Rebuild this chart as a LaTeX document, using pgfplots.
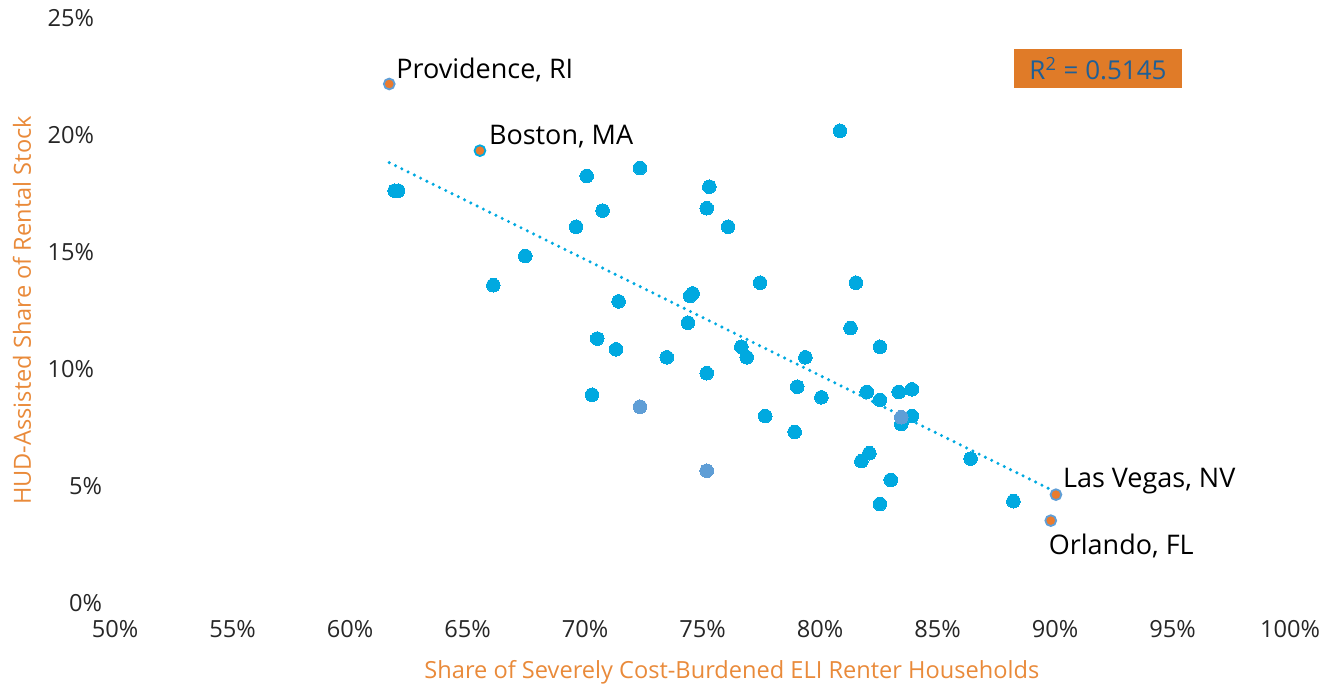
\documentclass[border=0pt]{standalone}
\usepackage{pgfplots}
\pgfplotsset{compat=1.18}
\usepackage{fontspec}
\setmainfont{Open Sans}
\definecolor{dotcyan}{HTML}{00A9E0}
\definecolor{dotsteel}{HTML}{5F9ED6}
\definecolor{dotorange}{HTML}{EA7B2E}
\definecolor{boxorange}{HTML}{E07B28}
\definecolor{titleorange}{HTML}{E98A3A}
\definecolor{rtext}{HTML}{1F5F96}
\definecolor{ticktext}{HTML}{262626}
\begin{document}
\begin{tikzpicture}
\path[use as bounding box] (-57.5pt,-41pt) rectangle (605pt,301.5pt);
\begin{axis}[
  scale only axis, width=587.5pt, height=292.5pt,
  xmin=50, xmax=100, ymin=0, ymax=25,
  clip=false,
  axis line style={draw=none},
  major tick length=0pt,
  xtick={50,55,...,100},
  xticklabels={50\%,55\%,60\%,65\%,70\%,75\%,80\%,85\%,90\%,95\%,100\%},
  ytick={0,5,...,25},
  yticklabels={0\%\hspace*{-4pt},5\%\hspace*{-4pt},10\%,15\%,20\%,25\%},
  tick label style={font=\fontsize{11.8}{13}\selectfont, text=ticktext},
  xticklabel style={yshift=-5pt},
  yticklabel style={xshift=-7pt},
  xlabel={Share of Severely Cost-Burdened ELI Renter Households},
  ylabel={HUD-Assisted Share of Rental Stock},
  label style={font=\fontsize{11.8}{13}\selectfont, text=titleorange},
  xlabel style={at={(axis description cs:0.525,0)}, anchor=center, yshift=-34.5pt},
  ylabel style={at={(axis description cs:0,0.5)}, anchor=center, rotate=0, yshift=46.5pt},
]
% regular points
\addplot[only marks, mark=*, mark size=3.4pt, color=dotcyan, mark options={fill=dotcyan, draw=dotcyan, line width=0pt}] coordinates {
(61.90,17.62) (62.05,17.62) (70.07,18.25) (72.34,18.59) (70.75,16.77)
(69.62,16.08) (67.46,14.83) (66.10,13.58) (75.29,17.79) (75.18,16.87)
(76.09,16.08) (77.45,13.69) (81.53,13.69) (74.58,13.23) (74.47,13.12)
(71.43,12.89) (74.38,11.98) (81.30,11.75) (82.55,10.95) (70.52,11.30)
(71.32,10.84) (73.48,10.50) (76.65,10.95) (76.88,10.50) (79.38,10.50)
(75.18,9.82) (79.03,9.24) (80.06,8.79) (81.99,9.02) (82.55,8.68)
(83.35,9.02) (83.91,9.13) (70.30,8.90) (77.67,7.99) (78.92,7.31)
(83.46,7.65) (83.91,7.99) (82.10,6.40) (81.76,6.06) (83.01,5.26)
(82.55,4.23) (86.41,6.17) (88.23,4.35) (80.85,20.18)
};
% steel blue points
\addplot[only marks, mark=*, mark size=3.4pt, color=dotsteel, mark options={fill=dotsteel, draw=dotsteel, line width=0pt}] coordinates {
(72.34,8.39) (83.46,7.94) (75.18,5.65)
};
% highlighted points
\addplot[only marks, mark=*, mark size=2.7pt, color=dotsteel, mark options={fill=dotorange, draw=dotsteel, line width=0.9pt}] coordinates {
(61.67,22.18) (90.04,4.63) (89.82,3.52)
};
\addplot[only marks, mark=*, mark size=2.7pt, color=dotcyan, mark options={fill=dotorange, draw=dotcyan, line width=0.9pt}] coordinates {
(65.53,19.33)
};
% trend line
\addplot[dotcyan, line width=1.7pt, line cap=round, dash pattern=on 0pt off 3.5pt] coordinates {
(61.67,18.82) (90.04,4.74)
};
\node[anchor=west, font=\fontsize{13.5}{15}\selectfont, xshift=0pt, yshift=7pt] at (axis cs:61.67,22.18) {Providence, RI};
\node[anchor=west, font=\fontsize{13.5}{15}\selectfont, xshift=1pt, yshift=7pt] at (axis cs:65.53,19.33) {Boston, MA};
\node[anchor=west, font=\fontsize{13.5}{15}\selectfont, xshift=0pt, yshift=7pt] at (axis cs:90.04,4.63) {Las Vegas, NV};
\node[anchor=west, font=\fontsize{13.5}{15}\selectfont, xshift=-4.5pt, yshift=-12.5pt] at (axis cs:89.82,3.52) {Orlando, FL};
\node[fill=boxorange, text=rtext, minimum width=84pt, minimum height=19.5pt, inner sep=0pt, font=\fontsize{13}{15}\selectfont] at (axis cs:91.83,22.84) {R\textsuperscript{2} = 0.5145};
\end{axis}
\end{tikzpicture}
\end{document}
